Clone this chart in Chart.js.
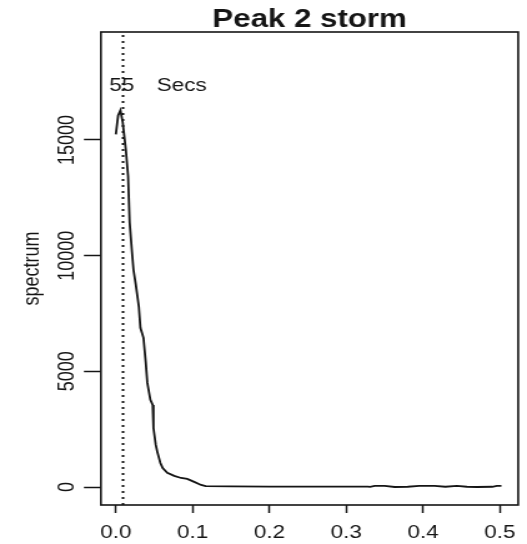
<!DOCTYPE html>
<html>
<head>
<meta charset="utf-8">
<script src="https://cdn.jsdelivr.net/npm/chart.js@4"></script>
<style>
  html, body { margin: 0; padding: 0; background: #fff; }
</style>
</head>
<body>
<!-- drawn at 422px wide and shown at 527px, so everything is widened like the original plot -->
<canvas id="spec" width="422" height="544" style="display:block;width:527px;height:544px"></canvas>
<script>
// smoothed spectrum of the storm record, peak 2
const freq = [0.000, 0.003, 0.006, 0.009, 0.013, 0.016, 0.018, 0.021, 0.023, 0.026,
              0.030, 0.032, 0.036, 0.039, 0.041, 0.045, 0.048, 0.049, 0.052, 0.054,
              0.058, 0.061, 0.067, 0.076, 0.085, 0.093, 0.102, 0.111, 0.117, 0.150,
              0.200, 0.250, 0.300, 0.328, 0.331, 0.337, 0.350, 0.363, 0.380, 0.395,
              0.415, 0.429, 0.444, 0.457, 0.470, 0.490, 0.496, 0.502];
const spectrum = [15240, 16060, 16280, 15760, 14590, 13420, 11430, 10170, 9390, 8750,
                  7790, 6880, 6450, 5370, 4500, 3770, 3550, 2550, 1820, 1520,
                  1040, 820, 610, 480, 390, 350, 220, 90, 40, 25,
                  20, 20, 20, 20, 5, 45, 45, 0, 10, 45,
                  45, 10, 45, 10, 0, 10, 45, 45];
const xTicks = [0, 0.1, 0.2, 0.3, 0.4, 0.5];
const yTicks = [0, 5000, 10000, 15000];
const peakFreq = 0.0094;
const peakPeriod = '55';
const periodUnit = 'Secs';
const title = 'Peak 2 storm';

const xMin = -0.0194, xMax = 0.5238;
const yMin = -778, yMax = 19668;

const ink = '#151515';
const font = { family: '"Liberation Sans", Arial, sans-serif', size: 18 };

// title, period label and the box round the plot
const decorations = {
  id: 'decorations',
  afterDatasetsDraw(chart) {
    const { ctx, chartArea: a, scales } = chart;
    ctx.save();
    ctx.strokeStyle = ink;
    ctx.lineWidth = 1.6;
    ctx.strokeRect(a.left, a.top, a.right - a.left, a.bottom - a.top);

    ctx.fillStyle = ink;
    ctx.textBaseline = 'alphabetic';
    ctx.font = 'bold 25px "Liberation Sans", Arial, sans-serif';
    ctx.textAlign = 'center';
    ctx.fillText(title, (a.left + a.right) / 2, 27);

    ctx.font = '18px "Liberation Sans", Arial, sans-serif';
    const px = scales.x.getPixelForValue(peakFreq);
    const py = scales.y.getPixelForValue(17100);
    ctx.textAlign = 'center';
    ctx.fillText(peakPeriod, px - 1, py);
    ctx.textAlign = 'left';
    ctx.fillText(periodUnit, px + 27, py);
    ctx.restore();
  }
};

new Chart('spec', {
  type: 'line',
  data: {
    datasets: [{
      data: freq.map((f, i) => ({ x: f, y: spectrum[i] })),
      borderColor: ink,
      borderWidth: 1.8,
      pointRadius: 0,
      tension: 0
    }, {
      data: [{ x: peakFreq, y: yMin }, { x: peakFreq, y: yMax }],
      borderColor: ink,
      borderWidth: 2,
      borderDash: [2, 4],
      pointRadius: 0
    }]
  },
  options: {
    responsive: false,
    animation: false,
    events: [],
    layout: { padding: { top: 32, right: 4.4, left: 0, bottom: 0 } },
    plugins: { legend: { display: false }, tooltip: { enabled: false } },
    scales: {
      x: {
        type: 'linear',
        min: xMin,
        max: xMax,
        border: { display: false },
        grid: { drawOnChartArea: false, drawTicks: true, tickLength: 8, tickColor: ink, tickWidth: 1.5 },
        ticks: { font: font, color: ink, padding: 9, maxRotation: 0, autoSkip: false,
                 callback: v => v.toFixed(1) },
        afterBuildTicks: s => { s.ticks = xTicks.map(v => ({ value: v })); },
        afterFit: s => { s.height = 39; }
      },
      y: {
        min: yMin,
        max: yMax,
        border: { display: false },
        grid: { drawOnChartArea: false, drawTicks: true, tickLength: 13.6, tickColor: ink, tickWidth: 1.5 },
        ticks: { font: font, color: ink, padding: -11.4, minRotation: 90, maxRotation: 90,
                 crossAlign: 'center', autoSkip: false, callback: v => String(v) },
        title: { display: true, text: 'spectrum', font: font, color: ink, padding: { top: 14.8, bottom: 0 } },
        afterBuildTicks: s => { s.ticks = yTicks.map(v => ({ value: v })); },
        afterFit: s => { s.width = 80.8; }
      }
    }
  },
  plugins: [decorations]
});
</script>
</body>
</html>
